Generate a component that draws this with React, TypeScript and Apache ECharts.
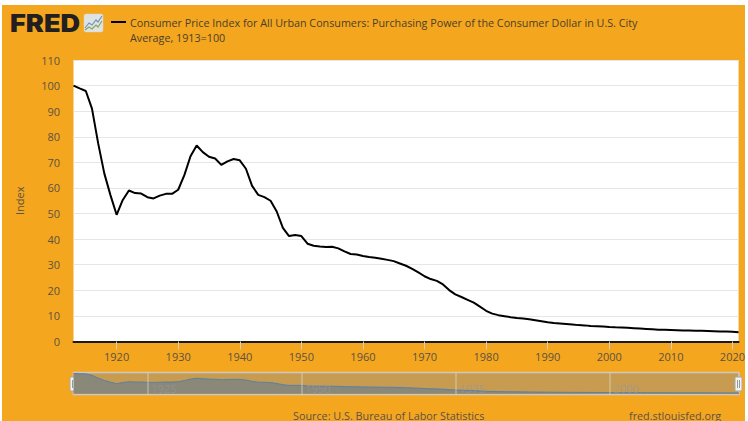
import React, { useEffect, useRef } from "react";
import * as echarts from "echarts";

const years = Array.from({ length: 109 }, (_, i) => 1913 + i);
const values = [
  100, 98.9, 97.9, 91, 77.5, 65.7, 57.2, 49.5, 55.3, 59, 58, 57.8, 56.4, 55.9, 57, 57.7, 57.7, 59.3, 65, 72.4,
  76.6, 74, 72.2, 71.5, 69, 70.4, 71.3, 70.8, 67.5, 60.8, 57.3, 56.4, 55, 50.8, 44.4, 41.2, 41.6, 41.2, 38.2, 37.4,
  37.1, 36.9, 37, 36.4, 35.2, 34.2, 34, 33.4, 33, 32.7, 32.3, 31.9, 31.4, 30.5, 29.6, 28.4, 27, 25.5, 24.4, 23.7,
  22.3, 20.1, 18.4, 17.4, 16.3, 15.2, 13.6, 12, 10.9, 10.3, 9.9, 9.5, 9.2, 9, 8.7, 8.3, 7.9, 7.5, 7.2, 7,
  6.8, 6.6, 6.4, 6.3, 6.1, 6, 5.9, 5.7, 5.55, 5.45, 5.35, 5.2, 5.05, 4.9, 4.75, 4.6, 4.6, 4.5, 4.4, 4.3,
  4.25, 4.2, 4.2, 4.15, 4.05, 3.95, 3.9, 3.85, 3.65,
];
const xTicks = [1920, 1930, 1940, 1950, 1960, 1970, 1980, 1990, 2000, 2010, 2020];
const navTicks = [1925, 1950, 1975, 2000];
const titleLines = [
  "Consumer Price Index for All Urban Consumers: Purchasing Power of the Consumer Dollar in U.S. City",
  "Average, 1913=100",
];
const sourceText = "Source: U.S. Bureau of Labor Statistics";
const siteText = "fred.stlouisfed.org";
const yName = "Index";
const logoText = "FRED";

const FONT = "'Open Sans', sans-serif";
const TXT = "#5c5240";

function handle(x: number) {
  return {
    type: "group",
    children: [
      { type: "rect", shape: { x, y: 377, width: 7, height: 14, r: 1 }, style: { fill: "#f2f2f2", stroke: "#a8a8a8", lineWidth: 1 } },
      { type: "line", shape: { x1: x + 2.5, y1: 380, x2: x + 2.5, y2: 388 }, style: { stroke: "#999", lineWidth: 1 } },
      { type: "line", shape: { x1: x + 4.5, y1: 380, x2: x + 4.5, y2: 388 }, style: { stroke: "#999", lineWidth: 1 } },
    ],
  };
}

export default function App() {
  const ref = useRef<HTMLDivElement>(null);
  useEffect(() => {
    document.body.style.margin = "0";
    document.body.style.background = "#fff";
    const chart = echarts.init(ref.current!, null, { renderer: "svg" });
    const pairs = years.map((y, i) => [y, values[i]]);
    chart.setOption({
      animation: false,
      backgroundColor: "transparent",
      textStyle: { fontFamily: FONT },
      grid: [
        { left: 73.5, top: 60, width: 665.5, height: 281.5, show: true, backgroundColor: "#fff", borderWidth: 0 },
        { left: 73.5, top: 372.5, width: 665.5, height: 22, show: true, backgroundColor: "#c79c50", borderColor: "#c9c9c9", borderWidth: 1.5 },
      ],
      xAxis: [
        {
          type: "value", gridIndex: 0, min: 1913, max: 2021,
          axisLine: { show: true, onZero: false, lineStyle: { color: "#1a1a1a", width: 2 } },
          axisTick: { show: true, length: 8, customValues: xTicks, lineStyle: { color: "#d8d0c0", width: 1 } },
          axisLabel: { customValues: xTicks, color: TXT, fontSize: 11, margin: 9, fontFamily: FONT, formatter: (v: number) => String(v) },
          splitLine: { show: false },
        },
        {
          type: "value", gridIndex: 1, min: 1913, max: 2021, z: 10,
          axisLine: { show: false },
          axisTick: { show: false },
          axisLabel: {
            inside: true, customValues: navTicks, color: "rgba(150,150,160,0.7)", fontSize: 11, margin: 1, align: "left",
            padding: [0, 0, 0, 4], fontFamily: FONT, formatter: (v: number) => String(v),
          },
          splitLine: { show: false },
        },
      ],
      yAxis: [
        {
          type: "value", gridIndex: 0, min: 0, max: 110, interval: 10,
          name: yName, nameLocation: "middle", nameGap: 49, nameRotate: 90,
          nameTextStyle: { color: TXT, fontSize: 11, fontFamily: FONT },
          axisLine: { show: false }, axisTick: { show: false },
          axisLabel: { color: TXT, fontSize: 11, margin: 13.5, fontFamily: FONT },
          splitLine: { show: true, lineStyle: { color: "#e6e6e6", width: 1 } },
        },
        {
          type: "value", gridIndex: 1, min: -4, max: 105,
          axisLine: { show: false }, axisTick: { show: false }, axisLabel: { show: false }, splitLine: { show: false },
        },
      ],
      series: [
        {
          type: "line", xAxisIndex: 0, yAxisIndex: 0, data: pairs, showSymbol: false, z: 5,
          lineStyle: { color: "#000", width: 2 }, itemStyle: { color: "#000" },
        },
        {
          type: "line", xAxisIndex: 1, yAxisIndex: 1, data: pairs, showSymbol: false,
          lineStyle: { color: "#5b7fa6", width: 1 }, itemStyle: { color: "#5b7fa6" },
          areaStyle: { color: "#8a8878", opacity: 1 },
          markLine: {
            silent: true, symbol: "none", label: { show: false },
            lineStyle: { color: "rgba(225,225,225,0.45)", type: "solid", width: 1.5 },
            data: navTicks.map((t) => ({ xAxis: t })),
          },
        },
      ],
      graphic: [
        { type: "text", x: 10, y: 11, scaleX: 1.13, style: { text: logoText, fontFamily: "'Inter', 'Liberation Sans', sans-serif", fontWeight: 900, fontSize: 24, fill: "#231f20" } },
        {
          type: "group",
          children: [
            { type: "rect", shape: { x: 84, y: 14, width: 19, height: 18, r: 2 }, style: { fill: "#dfe4e2", stroke: "#d6d6cf", lineWidth: 0.5 } },
            { type: "polyline", shape: { points: [[85, 28], [89, 23], [92, 25], [96, 20], [98, 22], [102, 16]] }, style: { fill: "none", stroke: "#6f94c0", lineWidth: 1.2 } },
            { type: "polyline", shape: { points: [[85, 30], [89, 27], [92, 29], [96, 25], [98, 27], [102, 21]] }, style: { fill: "none", stroke: "#86a665", lineWidth: 1.2 } },
          ],
        },
        { type: "line", shape: { x1: 111, y1: 22, x2: 126, y2: 22 }, style: { stroke: "#000", lineWidth: 2 } },
        { type: "text", x: 130, y: 22.5, style: { text: titleLines[0], fontFamily: FONT, fontSize: 10.75, fill: "#4a3f2a", verticalAlign: "middle" } },
        { type: "text", x: 130, y: 38, style: { text: titleLines[1], fontFamily: FONT, fontSize: 10.75, fill: "#4a3f2a", verticalAlign: "middle" } },
        { type: "text", x: 293, y: 415, style: { text: sourceText, fontFamily: FONT, fontSize: 10.8, fill: TXT, verticalAlign: "middle" } },
        { type: "text", x: 629, y: 415, style: { text: siteText, fontFamily: FONT, fontSize: 10.8, fill: TXT, verticalAlign: "middle" } },
        handle(70),
        handle(735),
      ],
    });
    return () => chart.dispose();
  }, []);
  return (
    <div style={{ position: "absolute", left: 0, top: 0, width: 748, height: 421, background: "#fff", overflow: "hidden" }}>
      <div style={{ position: "absolute", left: 2, top: 5, width: 743, height: 416, background: "#f5a61f" }} />
      <div ref={ref} style={{ position: "absolute", left: 0, top: 0, width: 748, height: 421 }} />
    </div>
  );
}
